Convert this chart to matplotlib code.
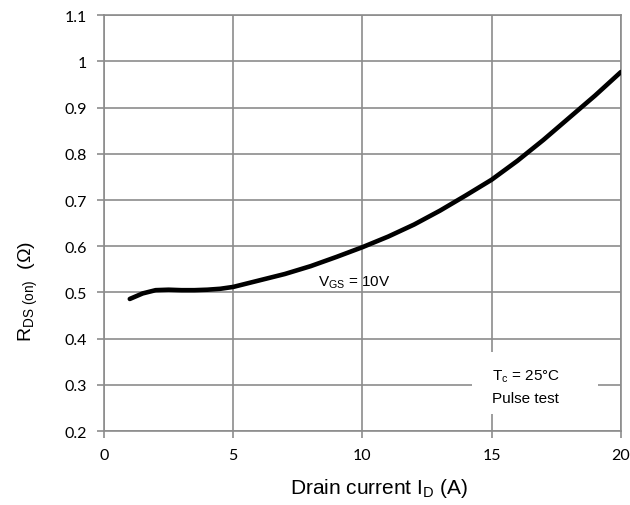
import matplotlib
matplotlib.use("Agg")
import matplotlib.pyplot as plt
from matplotlib.patches import Rectangle

# drain current (A) and on-resistance (ohm)
drain_current = [1, 1.5, 2, 2.5, 3, 3.5, 4, 4.5, 5, 6, 7, 8, 9, 10,
                 11, 12, 13, 14, 15, 16, 17, 18, 19, 20]
rds_on = [0.486, 0.498, 0.505, 0.506, 0.505, 0.505, 0.506, 0.508, 0.512,
          0.526, 0.540, 0.557, 0.577, 0.598, 0.621, 0.647, 0.677, 0.710,
          0.744, 0.785, 0.830, 0.878, 0.926, 0.977]

x_ticks = [0, 5, 10, 15, 20]
y_ticks = [0.2, 0.3, 0.4, 0.5, 0.6, 0.7, 0.8, 0.9, 1.0, 1.1]
y_tick_labels = ["0.2", "0.3", "0.4", "0.5", "0.6", "0.7", "0.8", "0.9", "1", "1.1"]

plt.rcParams['mathtext.fontset'] = 'custom'
plt.rcParams['mathtext.rm'] = 'Liberation Sans'
plt.rcParams['mathtext.it'] = 'Liberation Sans:italic'

grid_col = '#8c8c8c'
label_font = 'Liberation Sans'

fig = plt.figure(figsize=(6.3, 5.06), dpi=100)
ax = fig.add_axes([0.165, 0.146, 0.8205, 0.822])

ax.plot(drain_current, rds_on, color='black', lw=3.3, solid_capstyle='round',
        solid_joinstyle='round', zorder=3)

ax.set_xlim(0, 20)
ax.set_ylim(0.2, 1.1)
ax.set_xticks(x_ticks)
ax.set_yticks(y_ticks)
ax.set_yticklabels(y_tick_labels)
ax.grid(True, color=grid_col, lw=1.2)
ax.set_axisbelow(True)
for s in ax.spines.values():
    s.set_color(grid_col)
    s.set_linewidth(1.2)
ax.tick_params(colors=grid_col, labelcolor='black', length=5, width=1.2,
               labelsize=11.5, pad=7)
for lab in ax.get_xticklabels() + ax.get_yticklabels():
    lab.set_fontfamily('Lato')

ax.set_xlabel(r'Drain current I$_{\mathrm{D}}$ (A)', fontsize=15,
              fontfamily=label_font)
ax.xaxis.set_label_coords(0.532, -0.108)
ax.set_ylabel(r'R$_{\mathrm{DS\ (on)}}$  ($\Omega$)', fontsize=14,
              fontfamily=label_font)
ax.yaxis.set_label_coords(-0.124, 0.337)

# white box behind the test conditions
ax.add_patch(Rectangle((14.24, 0.237), 4.86, 0.134, facecolor='white',
                       edgecolor='none', zorder=2))
ax.text(15.0, 0.312, r'T$_{\mathrm{c}}$ = 25°C', fontsize=11,
        fontfamily=label_font, zorder=4)
ax.text(15.0, 0.263, 'Pulse test', fontsize=11,
        fontfamily=label_font, zorder=4)
ax.text(8.28, 0.515, r'V$_{\mathrm{GS}}$ = 10V', fontsize=11,
        fontfamily=label_font, zorder=4)

fig.savefig('out.png', dpi=100)
